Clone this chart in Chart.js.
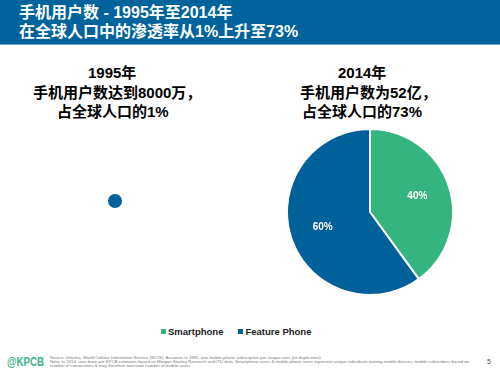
<!DOCTYPE html>
<html>
<head>
<meta charset="utf-8">
<script src="https://cdn.jsdelivr.net/npm/chart.js@4"></script>
<style>
  body { margin: 0; width: 500px; height: 375px; background: #fff; position: relative; overflow: hidden;
         font-family: "Liberation Sans", "Noto Sans CJK SC", sans-serif; }
  #header { position: absolute; left: 0; top: 0; width: 500px; height: 44px; background: #00639b;
            border-bottom: 1px solid #6fa8cc; }
  #header div { position: absolute; left: 19px; color: #fff; font-weight: bold; font-size: 16px; line-height: 18px; white-space: nowrap; }
  .note { position: absolute; color: #000; font-weight: bold; font-size: 15px; line-height: 19px; white-space: nowrap; }
  #legend { position: absolute; top: 326px; left: 161px; font-size: 9.5px; white-space: nowrap;
            font-weight: bold; color: #222; }
  #legend span { display: inline-block; margin-right: 15px; }
  #legend i { display: inline-block; width: 5px; height: 5px; margin-right: 2px; vertical-align: 1px; }
  #logo { position: absolute; left: 7px; top: 355px; font: bold 12.5px "Liberation Sans", sans-serif; color: #3ab387;
          transform: scaleX(0.78); transform-origin: left; }
  #src { position: absolute; left: 50px; top: 356px; width: 428px; font: 4.3px/4.1px "Liberation Sans", sans-serif; color: #777; }
  #page { position: absolute; left: 487px; top: 358px; font: 7px "Liberation Sans", sans-serif; color: #555; }
  canvas { position: absolute; }
</style>
</head>
<body>
<div id="header">
  <div style="top:4px">手机用户数 - 1995年至2014年</div>
  <div style="top:23px">在全球人口中的渗透率从1%上升至73%</div>
</div>

<div class="note" style="left:88px;top:63px">1995年</div>
<div class="note" style="left:33px;top:83px">手机用户数达到8000万，</div>
<div class="note" style="left:57px;top:102px">占全球人口的1%</div>

<div class="note" style="left:338px;top:63px">2014年</div>
<div class="note" style="left:300px;top:83px">手机用户数为52亿，</div>
<div class="note" style="left:302px;top:102px">占全球人口的73%</div>

<canvas id="pie1995" width="14" height="14" style="left:108px;top:194px"></canvas>
<canvas id="pie2014" width="168" height="168" style="left:286px;top:128px"></canvas>

<div id="legend"></div>

<div id="logo">@KPCB</div>
<div id="src">Source: Informa, World Cellular Information Service (WCIS). Assumes in 1995, one mobile phone subscription per unique user (no duplication).<br>Note: In 2014, user base per KPCB estimates based on Morgan Stanley Research and ITU data. Smartphone users &amp; mobile phone users represent unique individuals owning mobile devices; mobile subscribers based on number of connections &amp; may therefore overstate number of mobile users.</div>
<div id="page">5</div>

<script>
var categories = ["Smartphone", "Feature Phone"];
var colors = ["#34b47f", "#00609a"];
var share1995 = [0, 100];
var share2014 = [40, 60];

// etiquetas de porcentaje dentro de cada sector
var pctLabels = {
  id: "pctLabels",
  afterDatasetsDraw: function(chart, args, opts) {
    if (!opts.show) return;
    var ctx = chart.ctx;
    var data = chart.data.datasets[0].data;
    var total = data.reduce(function(a, b) { return a + b; }, 0);
    chart.getDatasetMeta(0).data.forEach(function(arc, i) {
      if (!data[i]) return;
      var p = arc.getProps(["x", "y", "startAngle", "endAngle", "outerRadius"], true);
      var mid = (p.startAngle + p.endAngle) / 2;
      var r = p.outerRadius * 0.6;
      ctx.save();
      ctx.fillStyle = "#fff";
      ctx.font = "bold 10px 'Liberation Sans', Arial, sans-serif";
      ctx.textAlign = "center";
      ctx.textBaseline = "middle";
      ctx.fillText(Math.round(data[i] / total * 100) + "%", p.x + Math.cos(mid) * r, p.y + Math.sin(mid) * r);
      ctx.restore();
    });
  }
};

function makePie(id, values, border, labels) {
  return new Chart(document.getElementById(id), {
    type: "pie",
    data: {
      labels: categories,
      datasets: [{
        data: values,
        backgroundColor: colors,
        borderColor: "#fff",
        borderWidth: border
      }]
    },
    options: {
      responsive: false,
      animation: false,
      layout: { padding: 0 },
      plugins: {
        legend: { display: false },
        tooltip: { enabled: false },
        pctLabels: { show: labels }
      }
    },
    plugins: [pctLabels]
  });
}

makePie("pie1995", share1995, 0, false);
makePie("pie2014", share2014, 2, true);

var legend = document.getElementById("legend");
categories.forEach(function(c, i) {
  var s = document.createElement("span");
  s.innerHTML = '<i style="background:' + colors[i] + '"></i>' + c;
  legend.appendChild(s);
});
</script>
</body>
</html>
